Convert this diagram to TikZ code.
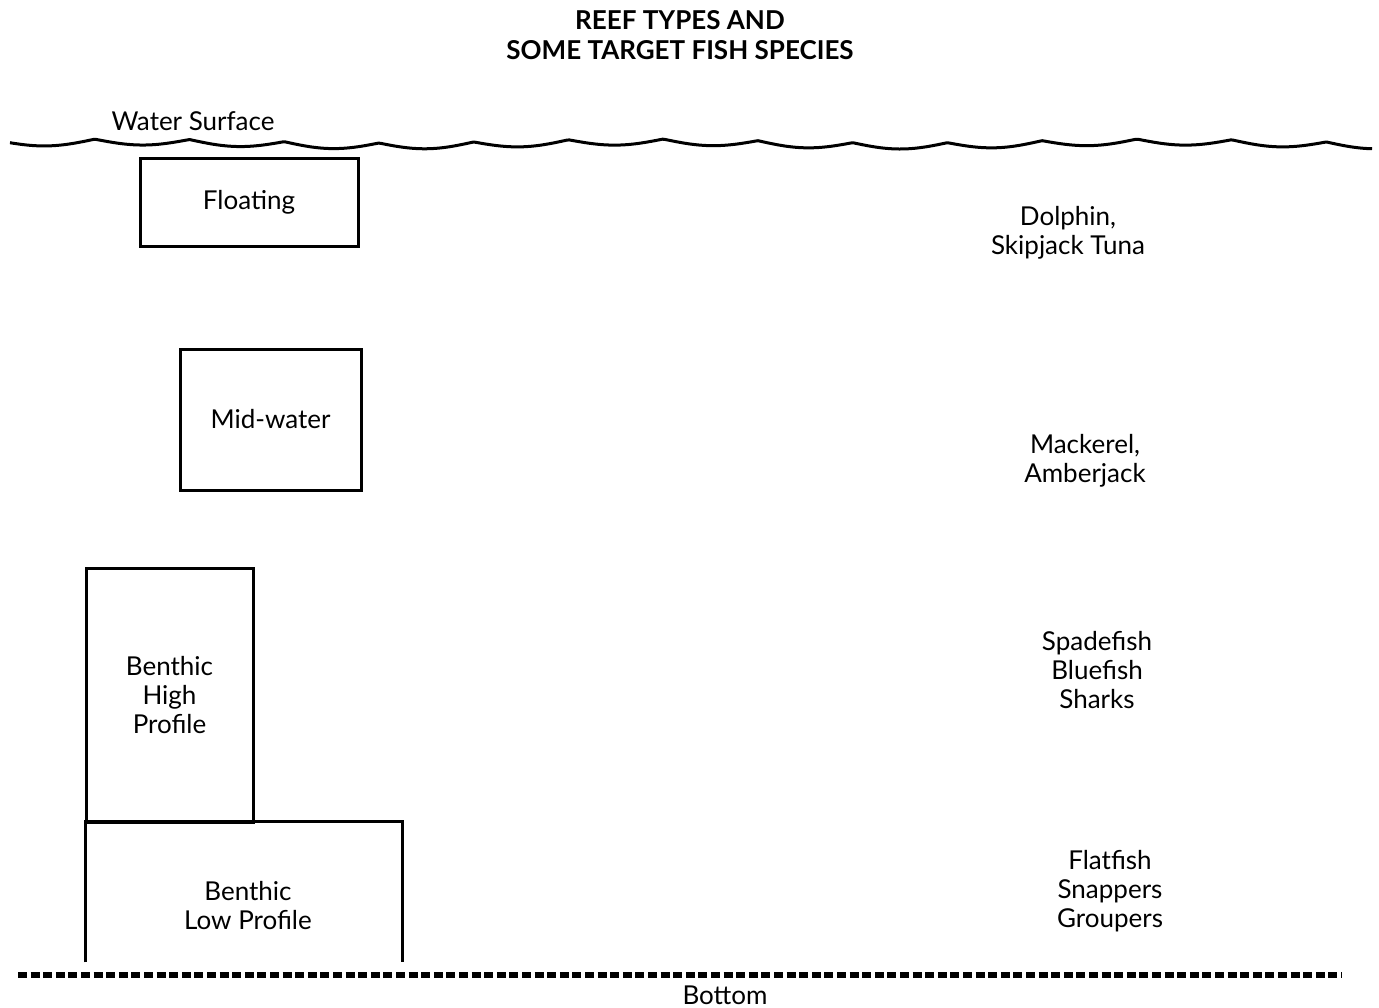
\documentclass[tikz,border=0pt]{standalone}
\usepackage{fontspec}
\setmainfont{Lato}
\usetikzlibrary{positioning}

\begin{document}
\begin{tikzpicture}[x=0.5pt, y=-0.5pt, font=\fontsize{13}{14.5}\selectfont,
     reef/.style={draw=black, line width=1.5pt, inner sep=0pt, align=center},
     fish/.style={align=center, inner sep=0pt},
     ttl/.style={font=\fontsize{13}{15}\selectfont\bfseries, align=center, inner sep=0pt}]
   \useasboundingbox (0,0) rectangle (1379,1007);
   \node[ttl] (title) at (680,35) {REEF TYPES AND\\SOME TARGET FISH SPECIES};
   \draw[line width=1.5pt, line join=round] plot[domain=10:1372, samples=600, smooth]
      (\x, {141 + 6*abs(sin(\x*1.9)) - 2*sin(\x*0.7)});
   \node[fish] (surface) at (193,121) {Water Surface};
   \node[reef, minimum width=109pt, minimum height=44pt] (float) at (249,202) {Floating};
   \node[reef, minimum width=90.5pt, minimum height=70.5pt] (mid) at (270.5,419.5) {Mid-water};
   \node[reef, minimum width=83.5pt, minimum height=127pt] (high) at (169.5,695) {Benthic\\High\\Profile};
   \node[inner sep=0pt, minimum width=158pt, minimum height=70pt] (low) at (244,892) {};
   \node[fish] (lowtext) at (248,905) {Benthic\\Low Profile};
   \draw[line width=1.5pt] (low.south west) -- (low.north west) -- (low.north east) -- (low.south east);
   \coordinate (b1) at (18,975);
   \coordinate (b2) at (1342,975);
   \draw[line width=3pt, dash pattern=on 4.5pt off 1.8pt] (b1) -- (b2);
   \node[fish] (bottom) at (725,995) {Bottom};
   \node[fish] (f1) at (1068,233) {Dolphin,\\Skipjack Tuna};
   \node[fish] (f2) at (1085,461) {Mackerel,\\Amberjack};
   \node[fish] (f3) at (1097,670) {Spadefish\\Bluefish\\Sharks};
   \node[fish] (f4) at (1110,891) {Flatfish\\Snappers\\Groupers};
\end{tikzpicture}
\end{document}
